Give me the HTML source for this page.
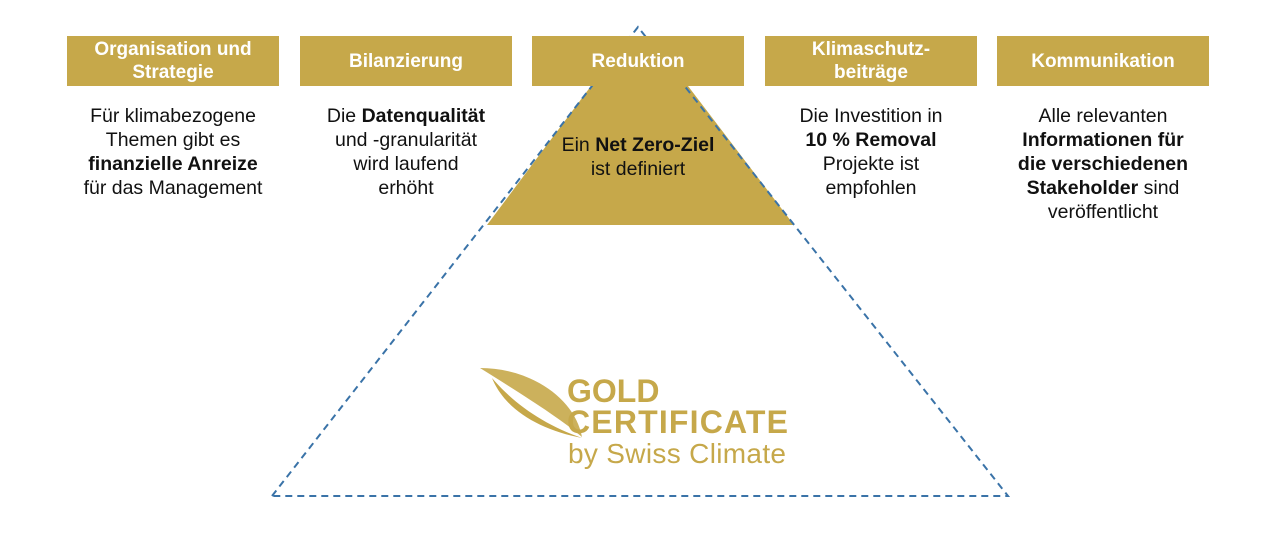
<!DOCTYPE html>
<html><head><meta charset="utf-8"><style>
body{margin:0;width:1280px;height:542px;background:#fff;position:relative;overflow:hidden;font-family:"Liberation Sans",Arial,sans-serif}
.h{position:absolute;top:36px;height:50px;width:212px;background:#C6A84A;color:#fff;font-weight:bold;font-size:19px;line-height:23px;display:flex;align-items:center;justify-content:center;text-align:center}
.t{position:absolute;top:104px;width:232px;margin-left:-10px;text-align:center;font-size:19.5px;line-height:24px;color:#111}
svg{position:absolute;left:0;top:0}
</style></head><body>
<svg width="1280" height="542">
<polygon points="591,86 688,86 794,225 487,225" fill="#C6A84A"/>
<polyline points="272,496 638,27 1008,496 272,496" fill="none" stroke="#3A73A8" stroke-width="2" stroke-dasharray="7,5"/>
<path d="M480,368 C530,368 575,398 582,437 C560,418 520,393 480,368Z" fill="#C6A84A" opacity="0.9"/>
<path d="M492,378 C505,410 540,430 582,438 C545,425 515,405 492,378Z" fill="#C6A84A"/>
<text x="567" y="402" font-family="Liberation Sans" font-weight="bold" font-size="32" fill="#C6A84A">GOLD</text>
<text x="567" y="433" font-family="Liberation Sans" font-weight="bold" font-size="32" fill="#C6A84A" textLength="221">CERTIFICATE</text>
<text x="568" y="463" font-family="Liberation Sans" font-size="28" fill="#C6A84A" textLength="218">by Swiss Climate</text>
</svg>
<div class="h" style="left:67px">Organisation und<br>Strategie</div>
<div class="h" style="left:300px">Bilanzierung</div>
<div class="h" style="left:532px">Reduktion</div>
<div class="h" style="left:765px">Klimaschutz-<br>beiträge</div>
<div class="h" style="left:997px">Kommunikation</div>
<div class="t" style="left:67px">Für klimabezogene<br>Themen gibt es<br><b>finanzielle Anreize</b><br>für das Management</div>
<div class="t" style="left:300px">Die <b>Datenqualität</b><br>und -granularität<br>wird laufend<br>erhöht</div>
<div class="t" style="left:532px;top:133px">Ein <b>Net Zero-Ziel</b><br>ist definiert</div>
<div class="t" style="left:765px">Die Investition in<br><b>10 % Removal</b><br>Projekte ist<br>empfohlen</div>
<div class="t" style="left:997px">Alle relevanten<br><b>Informationen für<br>die verschiedenen<br>Stakeholder</b> sind<br>veröffentlicht</div>
</body></html>
